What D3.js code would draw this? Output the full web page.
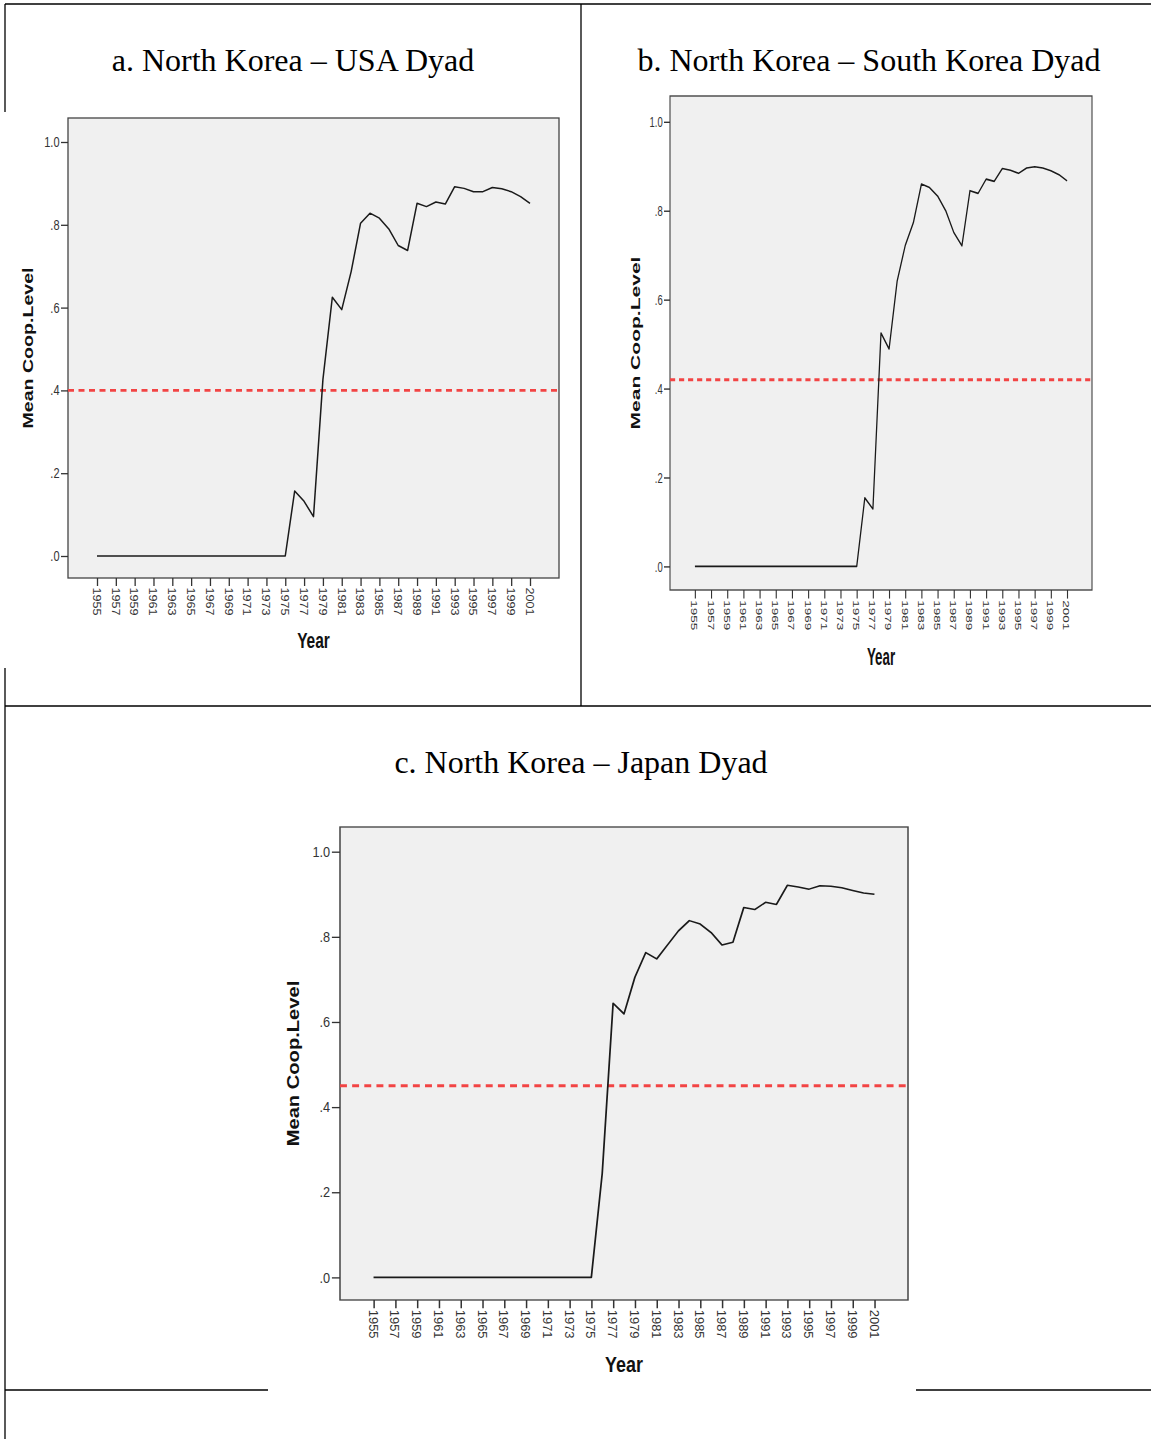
<!DOCTYPE html>
<html>
<head>
<meta charset="utf-8">
<script src="https://cdn.jsdelivr.net/npm/d3@7"></script>
<style>
  html, body { margin: 0; padding: 0; background: #fff; }
  svg { display: block; }
</style>
</head>
<body>
<div id="chart"></div>
<script>
// ---------------- DATA ----------------
const years = [1955,1956,1957,1958,1959,1960,1961,1962,1963,1964,1965,1966,1967,1968,1969,1970,
  1971,1972,1973,1974,1975,1976,1977,1978,1979,1980,1981,1982,1983,1984,1985,1986,1987,1988,
  1989,1990,1991,1992,1993,1994,1995,1996,1997,1998,1999,2000,2001];

const yearTickLabels = [1955,1957,1959,1961,1963,1965,1967,1969,1971,1973,1975,1977,1979,1981,
  1983,1985,1987,1989,1991,1993,1995,1997,1999,2001];

const coopTicks = [0, 0.2, 0.4, 0.6, 0.8, 1.0];
const coopTickLabels = [".0", ".2", ".4", ".6", ".8", "1.0"];

const usaValues = [0,0,0,0,0,0,0,0,0,0,0,0,0,0,0,0,0,0,0,0,0,
  0.157,0.132,0.095,0.426,0.625,0.595,0.687,0.804,0.828,0.816,0.790,0.750,0.738,
  0.852,0.844,0.855,0.850,0.892,0.888,0.880,0.880,0.890,0.887,0.880,0.868,0.852];

const southKoreaValues = [0,0,0,0,0,0,0,0,0,0,0,0,0,0,0,0,0,0,0,0,0,
  0.154,0.129,0.525,0.489,0.642,0.722,0.773,0.860,0.852,0.833,0.800,0.751,0.721,
  0.845,0.839,0.871,0.866,0.895,0.891,0.884,0.896,0.899,0.896,0.890,0.881,0.867];

const japanValues = [0,0,0,0,0,0,0,0,0,0,0,0,0,0,0,0,0,0,0,0,0,
  0.244,0.644,0.619,0.705,0.763,0.748,0.781,0.814,0.838,0.830,0.810,0.781,0.787,
  0.869,0.864,0.881,0.876,0.921,0.917,0.912,0.920,0.919,0.915,0.909,0.903,0.900];

const referenceLevels = [0.40, 0.42, 0.45];
const panelTitles = ["a. North Korea \u2013 USA Dyad", "b. North Korea \u2013 South Korea Dyad", "c. North Korea \u2013 Japan Dyad"];
const yAxisTitle = "Mean Coop.Level";
const xAxisTitle = "Year";

// ---------------- LAYOUT ----------------
const W = 1151, H = 1439;
const svg = d3.select("#chart").append("svg").attr("width", W).attr("height", H);

// base chart geometry (one SPSS chart, later placed/scaled per panel)
const BW = 491, BH = 460;
const TEXT_STRETCH = 1.3;

const panels = [
  { values: usaValues,        ref: referenceLevels[0], title: panelTitles[0],
    fx: 68,  fy: 118, fw: 491, fh: 460, tx: 293, ty: 71 },
  { values: southKoreaValues, ref: referenceLevels[1], title: panelTitles[1],
    fx: 670, fy: 96,  fw: 422, fh: 494, tx: 869, ty: 71 },
  { values: japanValues,      ref: referenceLevels[2], title: panelTitles[2],
    fx: 340, fy: 827, fw: 568, fh: 473, tx: 581, ty: 773 }
];

// document table borders
const border = svg.append("g").attr("stroke", "#000").attr("stroke-width", 1.3);
[
  [5, 4, 1151, 4],
  [5, 4, 5, 112],
  [5, 668, 5, 1439],
  [581, 4, 581, 706],
  [5, 706, 1151, 706],
  [5, 1390, 268, 1390],
  [916, 1390, 1151, 1390]
].forEach(([x1, y1, x2, y2]) => {
  border.append("line").attr("x1", x1).attr("y1", y1).attr("x2", x2).attr("y2", y2);
});

panels.forEach(p => {
  // title (document text)
  svg.append("text")
    .attr("x", p.tx).attr("y", p.ty)
    .attr("text-anchor", "middle")
    .attr("font-family", "'Liberation Serif', 'Times New Roman', serif")
    .attr("font-size", 32)
    .attr("fill", "#000")
    .text(p.title);

  const sx = p.fw / BW, sy = p.fh / BH;
  const g = svg.append("g").attr("transform", `translate(${p.fx},${p.fy}) scale(${sx},${sy})`);

  const x = d3.scaleLinear().domain([1955, 2001]).range([29, BW - 29]);
  const y = d3.scaleLinear().domain([0, 1]).range([BH - 22, 24]);

  // plot background frame
  g.append("rect")
    .attr("x", 0).attr("y", 0).attr("width", BW).attr("height", BH)
    .attr("fill", "#f0f0f0").attr("stroke", "#444").attr("stroke-width", 1.3);

  // reference line
  g.append("line")
    .attr("x1", 0).attr("x2", BW)
    .attr("y1", y(p.ref)).attr("y2", y(p.ref))
    .attr("stroke", "#f24444").attr("stroke-width", 2.8)
    .attr("stroke-dasharray", "6,4.5");

  // data line
  const line = d3.line().x((d, i) => x(years[i])).y(d => y(d));
  g.append("path")
    .datum(p.values)
    .attr("d", line)
    .attr("fill", "none")
    .attr("stroke", "#1a1a1a")
    .attr("stroke-width", 1.5)
    .attr("stroke-linejoin", "round");

  // y axis
  const yAxis = d3.axisLeft(y)
    .tickValues(coopTicks)
    .tickFormat((d, i) => coopTickLabels[i])
    .tickSize(7).tickPadding(1.5);
  const ya = g.append("g").call(yAxis);
  ya.select(".domain").remove();
  ya.selectAll("line").attr("stroke", "#333").attr("stroke-width", 1.3);
  ya.selectAll("text")
    .attr("font-family", "'Liberation Sans', Arial, sans-serif")
    .attr("font-size", 11)
    .attr("fill", "#333")
    .attr("transform", `scale(1,${TEXT_STRETCH})`);

  // x axis
  const xAxis = d3.axisBottom(x)
    .tickValues(yearTickLabels)
    .tickFormat(d3.format("d"))
    .tickSize(8);
  const xa = g.append("g").attr("transform", `translate(0,${BH})`).call(xAxis);
  xa.select(".domain").remove();
  xa.selectAll("line").attr("stroke", "#333").attr("stroke-width", 1.3);
  xa.selectAll("text")
    .attr("font-family", "'Liberation Sans', Arial, sans-serif")
    .attr("font-size", 10.5)
    .attr("fill", "#333")
    .attr("x", 0).attr("y", 0).attr("dy", "0.35em")
    .style("text-anchor", "start")
    .attr("transform", `translate(-1,9.5) rotate(90) scale(1.2,1)`);

  // y axis title
  g.append("text")
    .attr("transform", `translate(-40,${BH / 2}) rotate(-90) scale(1.4,1)`)
    .attr("text-anchor", "middle")
    .attr("dy", "0.35em")
    .attr("font-family", "'Liberation Sans', Arial, sans-serif")
    .attr("font-weight", "bold")
    .attr("font-size", 14)
    .attr("fill", "#111")
    .text(yAxisTitle);

  // x axis title
  g.append("text")
    .attr("transform", `translate(${BW / 2},${BH + 70}) scale(1,1.4)`)
    .attr("text-anchor", "middle")
    .attr("font-family", "'Liberation Sans', Arial, sans-serif")
    .attr("font-weight", "bold")
    .attr("font-size", 15.5)
    .attr("fill", "#111")
    .text(xAxisTitle);
});
</script>
</body>
</html>
